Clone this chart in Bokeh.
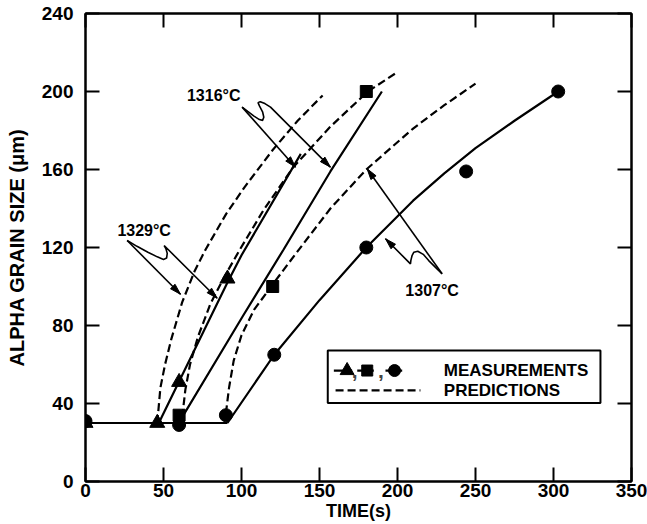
import math
from bokeh.plotting import figure
from bokeh.models import Range1d, LinearAxis, FixedTicker, Label
from bokeh.embed import file_html
from bokeh.resources import INLINE

FONT = "Liberation Sans"

# ---------------- data ----------------
x_ticks = [0, 50, 100, 150, 200, 250, 300, 350]
y_ticks = [0, 40, 80, 120, 160, 200, 240]

# measurements (time s, alpha grain size um)
tri_t = [0, 46, 60, 91]
tri_d = [30, 30, 51, 104]
sq_t = [60, 120, 180]
sq_d = [34, 100, 200]
cir_t = [0, 60, 90, 121, 180, 244, 303]
cir_d = [31, 29, 34, 65, 120, 159, 200]

# solid curves through the measurements
base_t = [0, 91]
base_d = [30, 30]
tri_fit_t = [47, 61, 91, 100, 138]
tri_fit_d = [30, 53, 102, 116, 168]
sq_fit_t = [62, 101, 127, 157, 190]
sq_fit_d = [33, 85, 119, 159, 200]
cir_fit_t = [91, 121, 150, 180, 210, 230, 250, 275, 303]
cir_fit_d = [30, 65, 93, 120, 144, 158, 171, 185, 200]

# predictions (dashed)
p1329_t = [46, 48, 51, 55, 62, 70, 77, 90, 102, 120, 136, 152]
p1329_d = [30, 48, 60, 73, 92, 108, 119, 137, 151, 170, 185, 198]
p1316_t = [62, 64, 67, 72, 80, 89, 99, 114, 133, 157, 181, 200]
p1316_d = [33, 47, 60, 74, 91, 105, 119, 139, 161, 182, 200, 210]
p1307_t = [90, 92, 95, 100, 108, 119, 134, 157, 180, 210, 230, 250]
p1307_d = [35, 48, 62, 75, 88, 100, 116, 140, 160, 181, 193, 204]

# ---------------- figure ----------------
W, H = 647, 524
BL, BR, BT, BB = 85, 16, 13, 43
FW, FH = W - BL - BR, H - BT - BB
SX, SY = FW / 350.0, FH / 240.0

p = figure(width=W, height=H, x_range=Range1d(0, 350), y_range=Range1d(0, 240),
           output_backend="svg", toolbar_location=None,
           min_border_left=BL, min_border_right=BR, min_border_top=BT, min_border_bottom=BB,
           x_axis_label="TIME(s)", y_axis_label="ALPHA GRAIN SIZE (\u03bcm)")
p.xgrid.visible = False
p.ygrid.visible = False
p.outline_line_color = "black"
p.outline_line_width = 2
p.background_fill_color = "white"
p.border_fill_color = "white"

for ax, ticks in ((p.xaxis[0], x_ticks), (p.yaxis[0], y_ticks)):
    ax.ticker = FixedTicker(ticks=ticks)
    ax.major_tick_in = 14
    ax.major_tick_out = 0
    ax.minor_tick_in = 0
    ax.minor_tick_out = 0
    ax.major_tick_line_width = 2
    ax.axis_line_width = 2
    ax.major_label_text_font = FONT
    ax.major_label_text_font_style = "bold"
    ax.major_label_text_font_size = "19px"
    ax.major_label_text_color = "black"
    ax.axis_label_text_font = FONT
    ax.axis_label_text_font_style = "bold"
    ax.axis_label_text_color = "black"
p.xaxis.axis_label_text_font_size = "18px"
p.yaxis.axis_label_text_font_size = "20px"
p.xaxis.major_label_standoff = 2
p.xaxis.axis_label_standoff = 1
p.yaxis.major_label_standoff = 12
p.yaxis.axis_label_standoff = 11

for side, ticks in (("above", x_ticks), ("right", y_ticks)):
    ax = LinearAxis(ticker=FixedTicker(ticks=ticks), major_label_text_font_size="0px",
                    major_label_overrides={t: "" for t in ticks},
                    major_tick_in=14, major_tick_out=0, minor_tick_in=0, minor_tick_out=0,
                    major_label_standoff=0, axis_line_width=2, major_tick_line_width=2)
    p.add_layout(ax, side)

LW = 2.2
DASH = "8 4"
for t, d in ((base_t, base_d), (tri_fit_t, tri_fit_d), (sq_fit_t, sq_fit_d), (cir_fit_t, cir_fit_d)):
    p.line(t, d, line_color="black", line_width=LW)
for t, d in ((p1329_t, p1329_d), (p1316_t, p1316_d), (p1307_t, p1307_d)):
    p.line(t, d, line_color="black", line_width=LW, line_dash=DASH)

p.scatter(tri_t, tri_d, marker="triangle", size=15, color="black")
p.scatter(sq_t, sq_d, marker="square", size=12, color="black")
p.scatter(cir_t, cir_d, marker="circle", size=13, color="black")

# ---------------- annotations ----------------
def arrow_path(pts):
    xs = [q[0] for q in pts]
    ys = [q[1] for q in pts]
    p.line(xs, ys, line_color="black", line_width=1.6)
    (fx, fy), (tx, ty) = pts[-2], pts[-1]
    dx, dy = (tx - fx) * SX, (ty - fy) * SY
    n = math.hypot(dx, dy)
    ux, uy = dx / n, dy / n
    L, w = 11, 3.2
    bx, by = -L * ux, -L * uy
    c1 = (tx + (bx - w * uy) / SX, ty + (by + w * ux) / SY)
    c2 = (tx + (bx + w * uy) / SX, ty + (by - w * ux) / SY)
    p.patch([tx, c1[0], c2[0]], [ty, c1[1], c2[1]], color="black")

# 1329 C
arrow_path([(26.7, 123.6), (60.9, 96)])
arrow_path([(26.7, 123.6), (33, 120.6), (40, 117.6), (46, 115.2), (50, 113.9), (52, 114.6),
            (52.4, 117), (51.5, 119.5), (50.4, 121), (84.4, 94)])
# 1316 C
arrow_path([(100.4, 192), (134.6, 161.2)])
arrow_path([(100.4, 192), (104, 189.8), (108, 187.4), (111.5, 185.6), (113.5, 185.2), (114.3, 186.8),
            (113.5, 189.6), (111.5, 192.6), (110.6, 194.3), (112, 194.8), (115, 193.8),
            (118.6, 192), (157, 161.2)])
# 1307 C
arrow_path([(228.6, 106.5), (180.5, 160.4)])
arrow_path([(228.6, 106.5), (220, 113.3), (216.5, 116.5), (213, 118.1), (210.5, 117.6),
            (209.4, 116), (208.6, 113.5), (208.3, 111.6), (192.3, 124.5)])

for txt, x, y in (("1329\u00b0C", 37.6, 128.6), ("1316\u00b0C", 82.2, 198), ("1307\u00b0C", 222.2, 98)):
    p.add_layout(Label(x=x, y=y, text=txt, text_align="center", text_baseline="middle",
                       text_font=FONT, text_font_style="bold", text_font_size="16px",
                       text_color="black"))

# ---------------- legend ----------------
p.quad(left=[155.3], right=[330.1], bottom=[40.2], top=[67.2],
       fill_color="white", line_color="black", line_width=2)
p.segment(x0=[159.2, 174.2, 192.3], y0=[56.9] * 3, x1=[170.9, 184.8, 203.0], y1=[56.9] * 3,
          line_color="black", line_width=LW)
p.scatter([167.7], [56.9], marker="triangle", size=14, color="black")
p.scatter([180.6], [56.9], marker="square", size=11, color="black")
p.scatter([198.1], [56.9], marker="circle", size=12, color="black")
for cx in (172.6, 189.3):
    p.add_layout(Label(x=cx, y=56.6, text=",", text_align="center", text_baseline="alphabetic",
                       text_font=FONT, text_font_style="bold", text_font_size="21px"))
p.segment(x0=[160.3], y0=[46.7], x1=[214.7], y1=[46.7], line_color="black",
          line_width=LW, line_dash=DASH)
for txt, y in (("MEASUREMENTS", 56.9), ("PREDICTIONS", 46.7)):
    p.add_layout(Label(x=229.7, y=y, text=txt, text_align="left", text_baseline="middle",
                       text_font=FONT, text_font_style="bold", text_font_size="17px",
                       text_color="black"))

open("out.html", "w").write(file_html(p, INLINE))
